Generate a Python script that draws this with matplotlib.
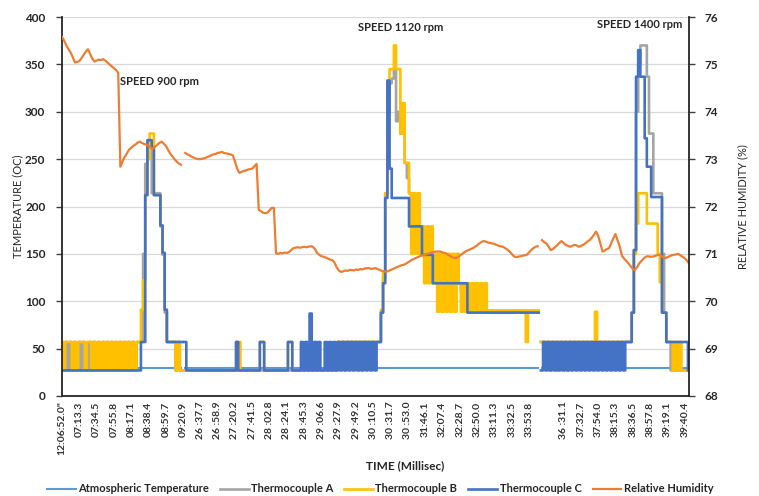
import numpy as np
import matplotlib
matplotlib.use("Agg")
import matplotlib.pyplot as plt

nan = float("nan")

time_labels = ["12:06:52.0\"", "07:13.3", "07:34.5", "07:55.8", "08:17.1", "08:38.4",
               "08:59.7", "09:20.9", "26 :37.7", "26 :58.9", "27 :20.2", "27 :41.5",
               "28 :02.8", "28 :24.1", "28 :45.3", "29 :06.6", "29 :27.9", "29 :49.2",
               "30 :10.5", "30 :31.7", "30 :53.0", "31:46.1", "32:07.4", "32:28.7",
               "32:50.0", "33:11.3", "33:32.5", "33:53.8", "", "36 :31.1", "37:32.7",
               "37:54.0", "38:15.3", "38:36.5", "38:57.8", "39:19.1", "39:40.4"]

atmospheric = [
    30, 30, 30, 30, 30, 30, 30, 30,  30, 30, 30, 30, 30, 30, 30, 30,
    30, 30, 30, 30, 30, 30, 30, 30,  30, 30, 30, 30, 30, 30, 30, 30,
    30, 30, 30, 30, 30, 30, 30, 30,  30, 30, 30, 30, 30, 30, 30, 30,
    30, 30, 30, 30, 30, 30, 30, 30,  nan, 30, 30, 30, 30, 30, 30, 30,
    30, 30, 30, 30, 30, 30, 30, 30,  30, 30, 30, 30, 30, 30, 30, 30,
    30, 30, 30, 30, 30, 30, 30, 30,  30, 30, 30, 30, 30, 30, 30, 30,
    30, 30, 30, 30, 30, 30, 30, 30,  30, 30, 30, 30, 30, 30, 30, 30,
    30, 30, 30, 30, 30, 30, 30, 30,  30, 30, 30, 30, 30, 30, 30, 30,
    30, 30, 30, 30, 30, 30, 30, 30,  30, 30, 30, 30, 30, 30, 30, 30,
    30, 30, 30, 30, 30, 30, 30, 30,  30, 30, 30, 30, 30, 30, 30, 30,
    30, 30, 30, 30, 30, 30, 30, 30,  30, 30, 30, 30, 30, 30, 30, 30,
    30, 30, 30, 30, 30, 30, 30, 30,  30, 30, 30, 30, 30, 30, 30, 30,
    30, 30, 30, 30, 30, 30, 30, 30,  30, 30, 30, 30, 30, 30, 30, 30,
    30, 30, 30, 30, 30, 30, 30, 30,  30, 30, 30, 30, 30, nan, 30, 30,
    30, 30, 30, 30, 30, 30, 30, 30,  30, 30, 30, 30, 30, 30, 30, 30,
    30, 30, 30, 30, 30, 30, 30, 30,  30, 30, 30, 30, 30, 30, 30, 30,
    30, 30, 30, 30, 30, 30, 30, 30,  30, 30, 30, 30, 30, 30, 30, 30,
    30, 30, 30, 30, 30, 30, 30, 30,  30, 30, 30, 30, 30, 30, 30, 30,
    30, 30, 30]

thermo_a = [
    57, 27, 57, 27, 57, 27, 57, 27,  57, 27, 57, 27, 27, 57, 27, 57,
    27, 57, 27, 57, 27, 57, 27, 57,  27, 57, 27, 57, 27, 57, 27, 57,
    27, 57, 27, 57, 57, 57, 150, 245,  265, 262, 214, 214, 214, 214, 179, 149,
    88, 57, 57, 57, 57, 27, 57, 27,  nan, 27, 27, 27, 27, 27, 27, 27,
    27, 27, 27, 27, 27, 27, 27, 27,  27, 27, 27, 27, 27, 27, 27, 27,
    27, 27, 27, 27, 27, 27, 27, 27,  27, 27, 27, 27, 27, 27, 27, 27,
    27, 27, 27, 27, 27, 27, 27, 27,  27, 27, 27, 27, 27, 27, 27, 27,
    27, 27, 27, 27, 27, 27, 27, 27,  27, 27, 27, 27, 27, 27, 27, 27,
    57, 57, 57, 57, 57, 57, 57, 57,  57, 57, 57, 57, 57, 57, 57, 57,
    57, 57, 57, 57, 88, 125, 214, 300,  330, 335, 345, 290, 300, 277, 277, 246,
    230, 214, 190, 200, 180, 180, 179, 160,  150, 150, 150, 130, 130, 120, 120, 120,
    119, 119, 119, 119, 119, 119, 119, 119,  119, 110, 100, 95, 90, 90, 90, 90,
    90, 90, 90, 90, 90, 90, 90, 90,  90, 90, 90, 90, 90, 90, 90, 90,
    90, 90, 90, 90, 90, 90, 90, 90,  90, 90, 90, 90, 90, nan, 57, 57,
    57, 57, 57, 57, 57, 57, 57, 57,  57, 57, 57, 57, 57, 57, 57, 57,
    57, 57, 57, 57, 57, 57, 57, 57,  57, 57, 57, 57, 57, 57, 57, 57,
    57, 57, 57, 57, 57, 57, 57, 57,  88, 154, 300, 350, 370, 370, 370, 337,
    277, 277, 214, 214, 214, 214, 150, 88,  57, 57, 27, 27, 27, 27, 27, 27,
    27, 27, 27]

thermo_b = [
    57, 27, 57, 57, 57, 27, 57, 27,  57, 57, 57, 27, 57, 57, 27, 57,
    27, 57, 27, 57, 27, 57, 27, 57,  27, 57, 27, 57, 27, 57, 27, 57,
    27, 57, 27, 57, 57, 91, 122, 212,  250, 277, 277, 212, 212, 212, 180, 151,
    91, 57, 57, 57, 57, 27, 57, 27,  nan, 27, 27, 27, 27, 27, 27, 27,
    27, 27, 27, 27, 27, 27, 27, 27,  27, 27, 27, 27, 27, 27, 27, 27,
    27, 57, 57, 27, 27, 27, 27, 27,  27, 27, 27, 27, 57, 57, 27, 27,
    27, 27, 27, 27, 27, 27, 27, 27,  27, 57, 57, 27, 27, 27, 27, 27,
    27, 27, 27, 27, 27, 27, 27, 27,  27, 27, 27, 27, 27, 27, 27, 27,
    57, 57, 57, 27, 57, 57, 57, 57,  57, 57, 27, 57, 57, 57, 57, 57,
    57, 57, 57, 57, 91, 130, 214, 330,  345, 345, 370, 345, 345, 277, 309, 246,
    246, 214, 150, 214, 150, 214, 150, 179,  119, 179, 119, 179, 119, 150, 89, 150,
    89, 150, 89, 150, 89, 150, 89, 150,  119, 89, 119, 89, 119, 89, 119, 89,
    119, 89, 119, 89, 119, 90, 90, 90,  90, 90, 90, 90, 90, 90, 90, 90,
    90, 90, 90, 90, 90, 90, 90, 57,  90, 90, 90, 90, 90, nan, 57, 57,
    57, 57, 27, 57, 57, 27, 57, 57,  27, 57, 27, 57, 57, 57, 57, 57,
    57, 57, 57, 57, 57, 57, 57, 89,  57, 57, 57, 57, 57, 57, 57, 57,
    57, 57, 57, 57, 57, 57, 57, 57,  88, 150, 182, 214, 214, 214, 214, 182,
    182, 182, 182, 182, 150, 120, 88, 88,  57, 57, 57, 27, 57, 27, 57, 27,
    27, 27, 27]

thermo_c = [
    27, 27, 27, 27, 27, 27, 27, 27,  27, 27, 27, 27, 27, 27, 27, 27,
    27, 27, 27, 27, 27, 27, 27, 27,  27, 27, 27, 27, 27, 27, 27, 27,
    27, 27, 27, 27, 27, 57, 57, 212,  270, 270, 262, 212, 212, 212, 180, 151,
    91, 57, 57, 57, 57, 57, 57, 57,  nan, 57, 27, 27, 27, 27, 27, 27,
    27, 27, 27, 27, 27, 27, 27, 27,  27, 27, 27, 27, 27, 27, 27, 27,
    27, 57, 27, 27, 27, 27, 27, 27,  27, 27, 27, 27, 57, 57, 27, 27,
    27, 27, 27, 27, 27, 27, 27, 27,  27, 57, 57, 27, 27, 27, 27, 57,
    27, 57, 27, 87, 27, 57, 27, 57,  27, 27, 57, 27, 57, 27, 57, 27,
    57, 27, 57, 27, 57, 27, 57, 27,  57, 27, 57, 27, 57, 27, 57, 27,
    57, 27, 57, 57, 88, 119, 209, 333,  240, 209, 209, 209, 209, 209, 209, 209,
    209, 179, 179, 179, 179, 179, 179, 149,  149, 149, 149, 149, 119, 119, 119, 119,
    119, 119, 119, 119, 119, 119, 119, 119,  119, 119, 119, 119, 88, 88, 88, 88,
    88, 88, 88, 88, 88, 88, 88, 88,  88, 88, 88, 88, 88, 88, 88, 88,
    88, 88, 88, 88, 88, 88, 88, 88,  88, 88, 88, 88, 88, nan, 27, 57,
    27, 57, 27, 57, 27, 57, 27, 57,  27, 57, 27, 57, 27, 57, 27, 57,
    27, 57, 27, 57, 27, 57, 27, 57,  27, 57, 27, 57, 27, 57, 27, 57,
    27, 57, 27, 57, 27, 57, 57, 57,  88, 154, 337, 365, 337, 337, 272, 242,
    242, 210, 210, 210, 210, 210, 88, 88,  57, 57, 57, 57, 57, 57, 57, 57,
    57, 57, 27]

humidity = [
    75.58, 75.50, 75.40, 75.32, 75.25, 75.15, 75.04, 75.05,
    75.07, 75.13, 75.20, 75.27, 75.32, 75.22, 75.12, 75.06,
    75.08, 75.10, 75.09, 75.11, 75.08, 75.04, 75.00, 74.96,
    74.92, 74.88, 74.82, 72.84, 72.95, 73.05, 73.12, 73.20,
    73.24, 73.28, 73.31, 73.35, 73.37, 73.34, 73.32, 73.30,
    73.28, 73.25, 73.22, 73.26, 73.30, 73.34, 73.37, 73.33,
    73.28, 73.20, 73.12, 73.06, 73.00, 72.95, 72.91, 72.88,
    nan, 73.13, 73.10, 73.08, 73.05, 73.03, 73.01, 73.00,
    73.00, 73.01, 73.02, 73.04, 73.06, 73.08, 73.10, 73.11,
    73.13, 73.14, 73.15, 73.13, 73.12, 73.11, 73.10, 73.08,
    72.95, 72.80, 72.71, 72.73, 72.75, 72.76, 72.78, 72.79,
    72.80, 72.85, 72.90, 71.93, 71.90, 71.87, 71.86, 71.87,
    71.92, 71.97, 71.97, 71.01, 71.00, 71.02, 71.01, 71.03,
    71.02, 71.04, 71.08, 71.12, 71.13, 71.14, 71.13, 71.14,
    71.15, 71.14, 71.15, 71.16, 71.15, 71.10, 71.02, 70.98,
    70.95, 70.94, 70.92, 70.90, 70.88, 70.87, 70.82, 70.72,
    70.65, 70.62, 70.63, 70.65, 70.64, 70.66, 70.66, 70.65,
    70.67, 70.66, 70.68, 70.67, 70.69, 70.70, 70.70, 70.68,
    70.69, 70.70, 70.68, 70.66, 70.64, 70.63, 70.62, 70.64,
    70.66, 70.68, 70.70, 70.72, 70.74, 70.76, 70.77, 70.79,
    70.82, 70.85, 70.88, 70.90, 70.92, 70.94, 70.96, 70.97,
    70.98, 71.00, 71.01, 71.03, 71.04, 71.05, 71.05, 71.05,
    71.03, 71.02, 71.00, 70.97, 70.94, 70.92, 70.91, 70.93,
    70.96, 71.00, 71.03, 71.06, 71.08, 71.10, 71.12, 71.15,
    71.18, 71.22, 71.25, 71.27, 71.26, 71.24, 71.23, 71.22,
    71.21, 71.19, 71.17, 71.16, 71.15, 71.12, 71.09, 71.05,
    71.00, 70.95, 70.93, 70.94, 70.95, 70.96, 70.97, 70.98,
    71.03, 71.08, 71.12, 71.15, 71.16, nan, 71.29, 71.25,
    71.22, 71.16, 71.08, 71.10, 71.14, 71.18, 71.23, 71.27,
    71.23, 71.19, 71.17, 71.15, 71.17, 71.19, 71.18, 71.15,
    71.17, 71.19, 71.22, 71.26, 71.29, 71.34, 71.40, 71.47,
    71.38, 71.22, 71.05, 71.07, 71.10, 71.12, 71.22, 71.33,
    71.42, 71.28, 71.15, 70.96, 70.90, 70.85, 70.80, 70.74,
    70.68, 70.66, 70.72, 70.80, 70.85, 70.90, 70.94, 70.95,
    70.94, 70.94, 70.95, 70.97, 70.98, 70.96, 70.93, 70.91,
    70.93, 70.95, 70.97, 70.98, 70.99, 71.00, 70.97, 70.94,
    70.91, 70.86, 70.80]

plt.rcParams["font.family"] = ["Lato", "DejaVu Sans"]
plt.rcParams["font.weight"] = "bold"
TXT = "#262626"

fig = plt.figure(figsize=(7.59, 4.96), dpi=100)
ax = fig.add_axes([62/759, 1-396/496, (689-62)/759, (396-17)/496])
sample = np.arange(len(thermo_c))

lw = 1.9
l1, = ax.plot(sample, atmospheric, color="#5B9BD5", lw=1.5, label="Atmospheric Temperature")
l2, = ax.plot(sample, thermo_a, color="#A5A5A5", lw=lw, drawstyle="steps-mid",
              snap=False, label="Thermocouple A")
l3, = ax.plot(sample, thermo_b, color="#FFC000", lw=lw, drawstyle="steps-mid",
              snap=False, label="Thermocouple B")
l4, = ax.plot(sample, thermo_c, color="#4472C4", lw=lw, drawstyle="steps-mid",
              snap=False, label="Thermocouple C")

ax.set_xlim(0, len(sample) - 1)
ax.set_ylim(0, 400)
ax.set_yticks(np.arange(0, 401, 50))
ax.grid(axis="y", color="#d9d9d9", lw=0.9)
ax.set_axisbelow(True)
ax.set_xticks(sample[::8])
ax.set_xticklabels(time_labels, rotation=90, fontsize=7.5, color="#333333")
ax.tick_params(axis="x", length=0, pad=4)
ax.tick_params(axis="y", direction="out", length=4, width=1, color="#404040",
               labelsize=8.5, labelcolor=TXT, pad=8)
for s in ["top", "right"]:
    ax.spines[s].set_visible(False)
ax.spines["left"].set_color("#262626")
ax.spines["left"].set_linewidth(1.3)
ax.spines["bottom"].set_color("#262626")
ax.spines["bottom"].set_linewidth(1.3)
ax.set_ylabel("TEMPERATURE (OC)", fontsize=8, color=TXT, labelpad=1)

ax2 = ax.twinx()
l5, = ax2.plot(sample, humidity, color="#ED7D31", lw=1.6, label="Relative Humidity")
ax2.set_ylim(68, 76)
ax2.set_yticks(np.arange(68, 77, 1))
ax2.tick_params(axis="y", direction="out", length=4, width=1, color="#404040",
                labelsize=8.5, labelcolor=TXT, pad=7)
for s in ["top", "left", "bottom"]:
    ax2.spines[s].set_visible(False)
ax2.spines["right"].set_color("#262626")
ax2.spines["right"].set_linewidth(1.3)
ax2.set_ylabel("RELATIVE HUMIDITY (%)", fontsize=8, color=TXT, labelpad=14)

ax.text(26.8, 332, "SPEED 900 rpm", fontsize=8, color=TXT, ha="left", va="center")
ax.text(156.8, 389, "SPEED 1120 rpm", fontsize=8, color=TXT, ha="center", va="center")
ax.text(267.3, 392.6, "SPEED 1400 rpm", fontsize=8, color=TXT, ha="center", va="center",
        clip_on=False)

fig.text(405/759, 1-466/496, "TIME (Millisec)", fontsize=8.5, color=TXT, ha="center", va="center")

fig.legend(handles=[l1, l2, l3, l4, l5], loc="center", bbox_to_anchor=(380/759, 1-489/496),
           ncol=5, frameon=False, fontsize=8, handlelength=2.6, handletextpad=0.2,
           columnspacing=1.0, labelcolor=TXT)

fig.savefig("out.png", dpi=100)
